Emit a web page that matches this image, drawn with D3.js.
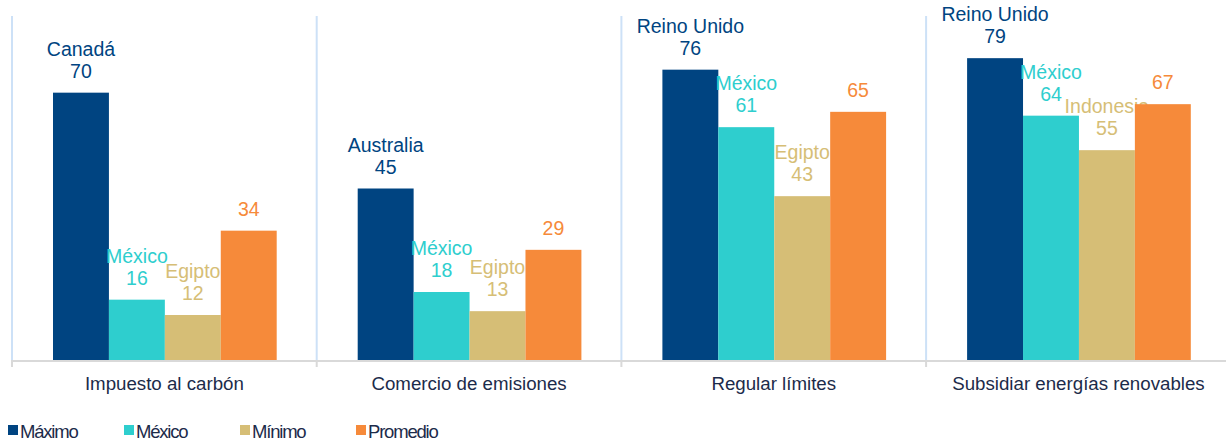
<!DOCTYPE html>
<html>
<head>
<meta charset="utf-8">
<script src="https://cdn.jsdelivr.net/npm/d3@7"></script>
<style>
  body { margin: 0; background: #fff; }
  svg { font-family: Arial, "Liberation Sans", sans-serif; }
</style>
</head>
<body>
<div id="chart"></div>
<script>
// categories and series
const categories = ["Impuesto al carbón", "Comercio de emisiones", "Regular límites", "Subsidiar energías renovables"];
const seriesNames = ["Máximo", "México", "Mínimo", "Promedio"];
const maximo = [70, 45, 76, 79];
const mexico = [16, 18, 61, 64];
const minimo = [12, 13, 43, 55];
const promedio = [34, 29, 65, 67];
// country names shown above the bars (none for Promedio)
const maximoNames = ["Canadá", "Australia", "Reino Unido", "Reino Unido"];
const mexicoNames = ["México", "México", "México", "México"];
const minimoNames = ["Egipto", "Egipto", "Egipto", "Indonesia"];

const colors = ["#004481", "#2ECECE", "#D6BE76", "#F68A3A"];

const w = 1226, h = 441;
const plotTop = 16, plotBottom = 361, plotLeft = 12;

const svg = d3.select("#chart").append("svg")
    .attr("width", w).attr("height", h);

let values = [maximo, mexico, minimo, promedio];
let names = [maximoNames, mexicoNames, minimoNames, null];

let x0 = d3.scaleBand()
    .domain(categories)
    .range([plotLeft, plotLeft + 4 * 304.7])
    .paddingInner(0)
    .paddingOuter(0);

let x1 = d3.scaleBand()
    .domain(seriesNames)
    .range([41, x0.bandwidth() - 40]);

let y = d3.scaleLinear()
    .domain([0, 90])
    .range([plotBottom, plotTop]);

// separators between categories
svg.selectAll("line.sep")
    .data(categories)
    .enter()
    .append("line")
    .attr("class", "sep")
    .attr("x1", d => x0(d)).attr("x2", d => x0(d))
    .attr("y1", plotTop).attr("y2", plotBottom)
    .attr("stroke", "#cde1f7")
    .attr("stroke-width", 2);

// bars
categories.forEach((c, ci) => {
    let g = svg.append("g").attr("transform", "translate(" + x0(c) + ",0)");
    seriesNames.forEach((s, si) => {
        let v = values[si][ci];
        let bx = x1(s), bw = x1.bandwidth();
        g.append("rect")
            .attr("x", bx).attr("width", bw)
            .attr("y", y(v)).attr("height", plotBottom - y(v))
            .attr("fill", colors[si]);
        g.append("text")
            .attr("x", bx + bw / 2).attr("y", y(v) - 15)
            .attr("text-anchor", "middle")
            .attr("font-size", 19.5)
            .attr("fill", colors[si])
            .text(v);
        if (names[si]) {
            g.append("text")
                .attr("x", bx + bw / 2).attr("y", y(v) - 37)
                .attr("text-anchor", "middle")
                .attr("font-size", 19.5)
                .attr("fill", colors[si])
                .text(names[si][ci]);
        }
    });
});

// x axis
let xAxis = d3.axisBottom(x0).tickSize(0).tickPadding(16);
let ax = svg.append("g")
    .attr("transform", "translate(0," + plotBottom + ")")
    .call(xAxis);
ax.select(".domain").remove();
ax.selectAll("text")
    .attr("font-size", 18.7)
    .attr("fill", "#1c2b4a")
    .attr("font-family", "Arial, 'Liberation Sans', sans-serif");

svg.append("line")
    .attr("x1", plotLeft - 1).attr("x2", w)
    .attr("y1", plotBottom).attr("y2", plotBottom)
    .attr("stroke", "#d9d9d9").attr("stroke-width", 2);

svg.selectAll("line.tick2")
    .data(categories)
    .enter()
    .append("line")
    .attr("class", "tick2")
    .attr("x1", d => x0(d)).attr("x2", d => x0(d))
    .attr("y1", plotBottom).attr("y2", plotBottom + 6)
    .attr("stroke", "#d9d9d9").attr("stroke-width", 2);

// legend
let legend = svg.selectAll("g.leg")
    .data(seriesNames)
    .enter()
    .append("g")
    .attr("class", "leg")
    .attr("transform", (d, i) => "translate(" + (8 + i * 116) + ",425)");
legend.append("rect")
    .attr("width", 10).attr("height", 10)
    .attr("fill", (d, i) => colors[i]);
legend.append("text")
    .attr("x", 12).attr("y", 12.5)
    .attr("font-size", 18.5)
    .attr("letter-spacing", -1.2)
    .attr("fill", "#1c2b4a")
    .text(d => d);
</script>
</body>
</html>
